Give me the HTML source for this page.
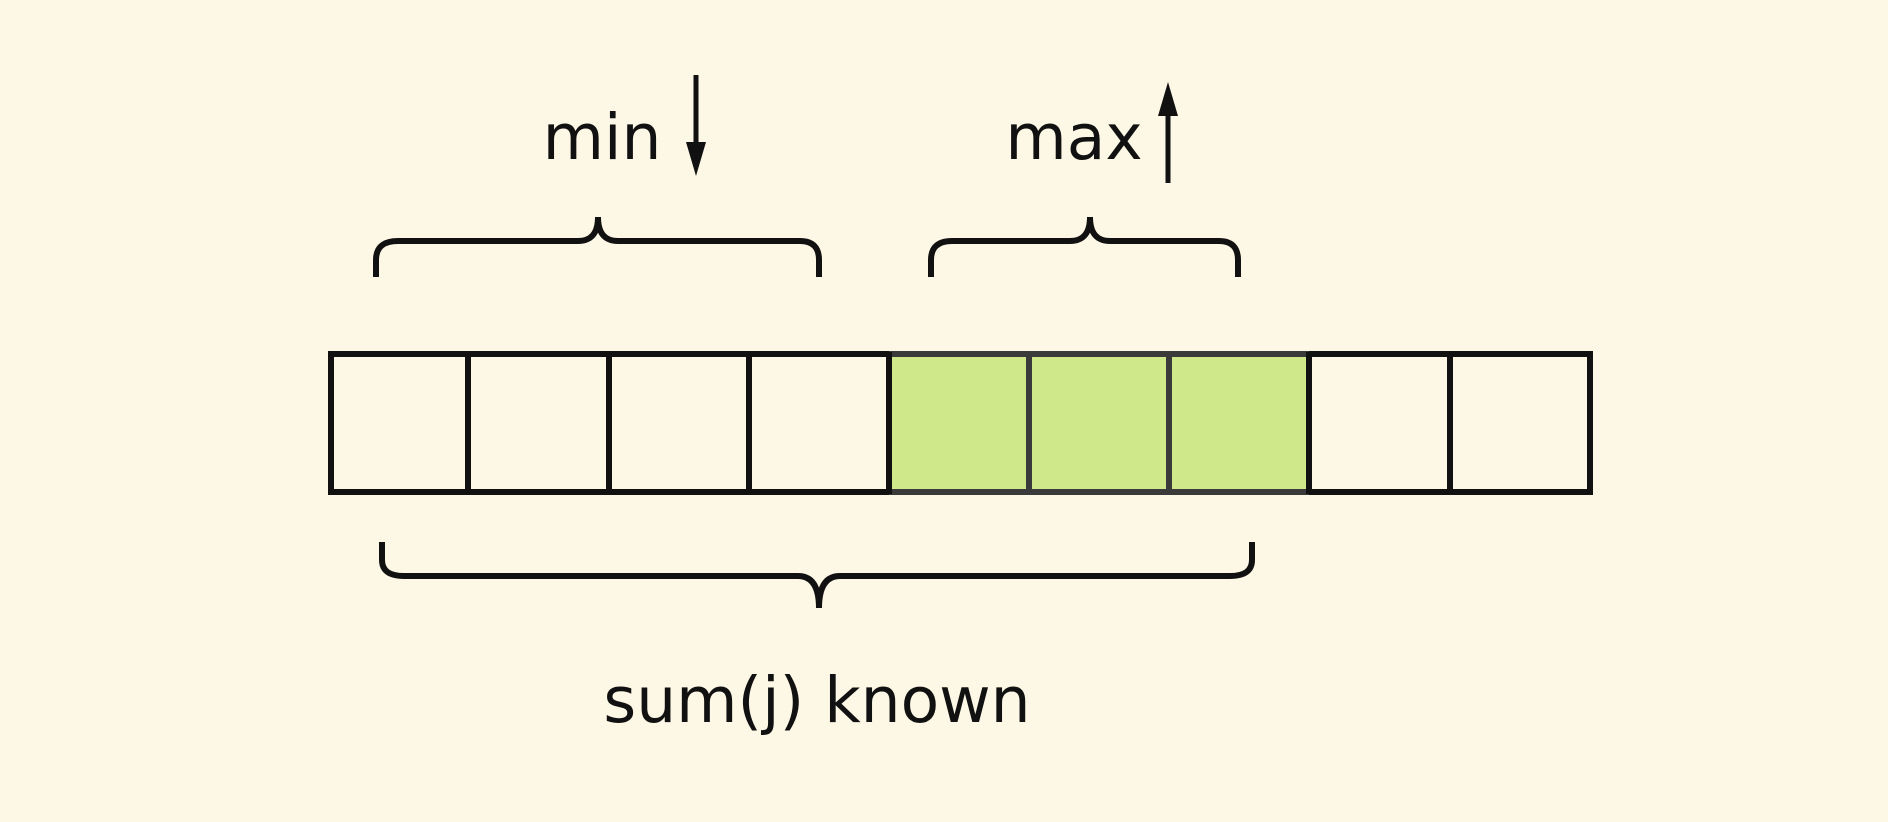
<!DOCTYPE html>
<html><head><meta charset="utf-8"><style>
html,body{margin:0;padding:0;background:#fdf7e5;}
svg{display:block}
text{font-family:"DejaVu Sans","Liberation Sans",sans-serif;font-size:63px;fill:#111;}
</style></head><body>
<svg width="1888" height="822" viewBox="0 0 1888 822">
<rect width="1888" height="822" fill="#fdf7e5"/>
<g stroke-width="6" fill="none">
<rect x="889" y="352" width="420" height="142" fill="#cfe98a" stroke="none"/>
<path d="M889 354H1309M889 492H1309M1029 352V494M1169 352V494" stroke="#3a3a3a"/>
<path d="M889 354H331V492H889M1309 354H1590V492H1309M468 352V494M609 352V494M749 352V494M1450 352V494M889 352V494M1309 352V494" stroke="#111"/>
<path d="M376 277V260Q376 241 398 241H578Q598 241 598 217Q598 241 618 241H800Q819 241 819 260V277" stroke="#111"/>
<path d="M931 277V260Q931 241 952 241H1070Q1090 241 1090 217Q1090 241 1110 241H1219Q1238 241 1238 260V277" stroke="#111"/>
<path d="M382 542V560Q382 576 404 576H798Q819 576 819 608Q819 576 840 576H1230Q1252 576 1252 560V542" stroke="#111"/>
<path d="M696 75V150" stroke="#111" stroke-width="5"/>
<path d="M1168 110V183" stroke="#111" stroke-width="5"/>
</g>
<polygon points="686,142 706,142 696,176" fill="#111"/>
<polygon points="1158,116 1178,116 1168,82" fill="#111"/>
<text x="602" y="159" text-anchor="middle">min</text>
<text x="1074" y="159" text-anchor="middle">max</text>
<text x="817" y="722" text-anchor="middle">sum(j) known</text>
</svg>
</body></html>
